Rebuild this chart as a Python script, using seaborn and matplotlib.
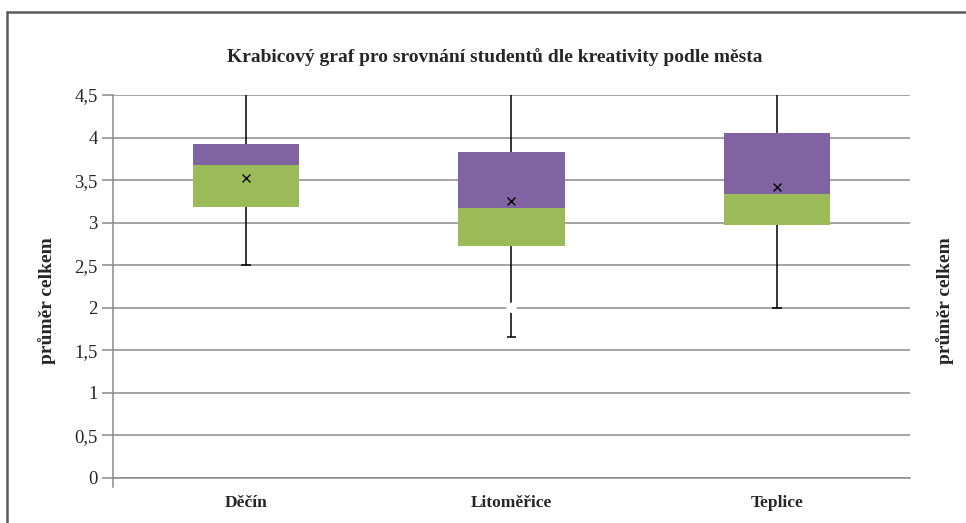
import numpy as np
import pandas as pd
import matplotlib
matplotlib.use('Agg')
import matplotlib.pyplot as plt
from matplotlib.lines import Line2D
import seaborn as sns

# box plot values
mesta = ['Děčín', 'Litoměřice', 'Teplice']
minimum = [2.50, 1.66, 2.00]
q1 = [3.18, 2.72, 2.97]
median = [3.68, 3.17, 3.34]
q3 = [3.92, 3.83, 4.05]
maximum = [4.50, 4.50, 4.50]
prumer = [3.52, 3.25, 3.42]
# white spot sitting on the Litoměřice whisker
bila_mesta = ['Litoměřice']
bila_hodnota = [2.0]

y_ticks = [0, 0.5, 1, 1.5, 2, 2.5, 3, 3.5, 4, 4.5]

title = 'Krabicový graf pro srovnání studentů dle kreativity podle města'
ylab = 'průměr celkem'

sns.set_style('white')
plt.rcParams['font.family'] = ['Liberation Serif', 'DejaVu Serif']

df = pd.DataFrame({'mesto': mesta, 'q1': q1, 'median': median, 'q3': q3,
                   'min': minimum, 'max': maximum, 'prumer': prumer})
df['spodni'] = df['median'] - df['q1']
df['horni'] = df['q3'] - df['median']

fig = plt.figure(figsize=(9.66, 5.23), dpi=100)
ax = fig.add_axes([113/966, 1 - 478/523, (910 - 113)/966, (478 - 95)/523])

grey = '#8a8a8a'
ax.set_axisbelow(True)
ax.yaxis.grid(True, color=grey, linewidth=1.1)

# whiskers first so the boxes sit on top
x = np.arange(len(mesta))
ax.vlines(x, df['min'], df['q1'], color='black', linewidth=1.1, zorder=2)
ax.vlines(x, df['q3'], df['max'], color='black', linewidth=1.1, zorder=2)
ax.hlines(df['min'], x - 0.018, x + 0.018, color='black', linewidth=1.1, zorder=2)

# stacked boxes: green = Q1..median, purple = median..Q3
sns.barplot(data=df, x='mesto', y='spodni', bottom=df['q1'].values, color='#9BBB59',
            width=0.4, saturation=1, edgecolor='none', linewidth=0, ax=ax, zorder=3)
sns.barplot(data=df, x='mesto', y='horni', bottom=df['median'].values, color='#8064A2',
            width=0.4, saturation=1, edgecolor='none', linewidth=0, ax=ax, zorder=3)

sns.scatterplot(data=df, x='mesto', y='prumer', marker='x', color='black', s=32,
                linewidth=1.0, ax=ax, zorder=5, legend=False)
sns.scatterplot(x=bila_mesta, y=bila_hodnota, marker='o', color='white', s=55,
                edgecolor='none', ax=ax, zorder=5, legend=False)

ax.set_ylim(0, 4.5)
ax.set_xlim(-0.5, len(mesta) - 0.5)
ax.set_yticks(y_ticks)
ax.set_yticklabels([('%g' % t).replace('.', ',') for t in y_ticks], fontsize=13.5)
ax.set_xticks(x)
ax.set_xticklabels(mesta, fontsize=12.5, fontweight='bold')
ax.set_xticks(np.arange(len(mesta) + 1) - 0.5, minor=True)
ax.tick_params(axis='x', which='major', length=0, pad=12)
ax.tick_params(axis='x', which='minor', length=8, color=grey, width=1.1, direction='out')
ax.tick_params(axis='y', length=8, color=grey, width=1.1, direction='out', pad=3, left=True)
ax.set_xlabel('')
ax.set_ylabel('')

for s in ['top', 'right']:
    ax.spines[s].set_visible(False)
for s in ['left', 'bottom']:
    ax.spines[s].set_color(grey)
    ax.spines[s].set_linewidth(1.1)
ax.spines['left'].set_bounds(-0.1, 4.5)

fig.text(495/966, 1 - 57/523, title, ha='center', va='center', fontsize=14, fontweight='bold')
fig.text(47/966, 1 - 301/523, ylab, ha='center', va='center', rotation=90, fontsize=14, fontweight='bold')
fig.text(945/966, 1 - 301/523, ylab, ha='center', va='center', rotation=90, fontsize=14, fontweight='bold')

# chart frame (left and top edges visible in the picture)
fig.add_artist(Line2D([7/966, 7/966], [0, 1 - 12/523], transform=fig.transFigure, color='#5a5a5a', linewidth=1.8))
fig.add_artist(Line2D([7/966, 1], [1 - 12/523, 1 - 12/523], transform=fig.transFigure, color='#5a5a5a', linewidth=1.8))

fig.savefig('out.png', dpi=100)
